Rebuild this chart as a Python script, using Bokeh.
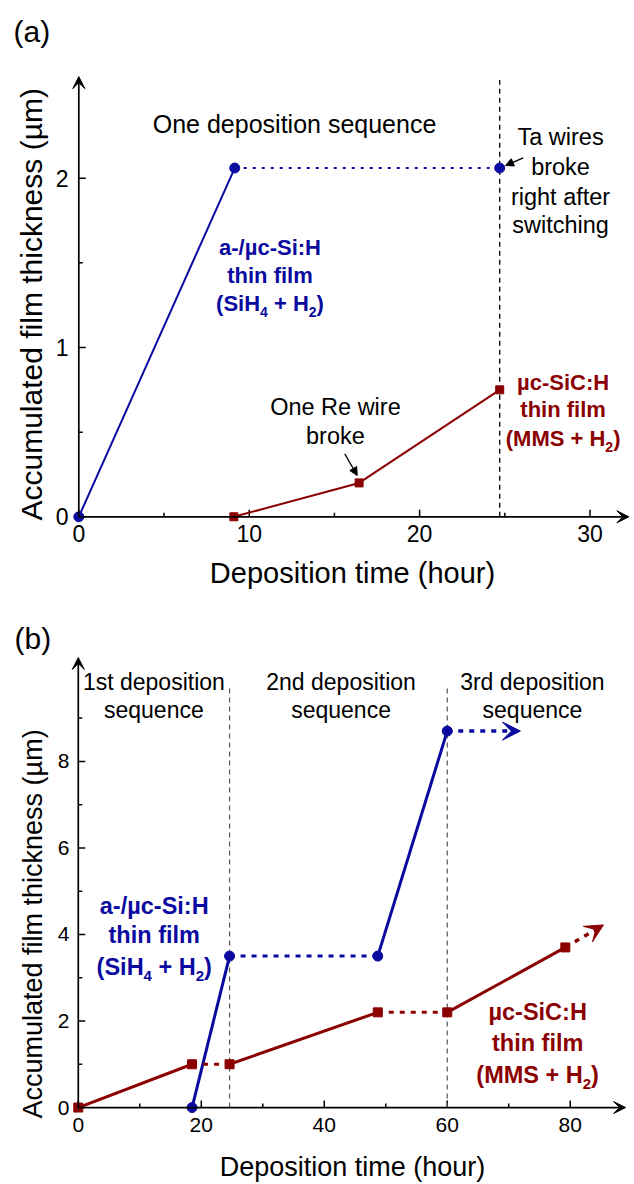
import math
from bokeh.plotting import figure
from bokeh.models import Range1d, FixedTicker, Arrow, VeeHead, NormalHead, Title
from bokeh.layouts import column
from bokeh.embed import file_html
from bokeh.resources import INLINE
from bokeh.core.properties import value

FONT = "Liberation Sans"
BLUE = "#0a0aa0"
RED = "#8b0000"

# ---------------- panel (a) data ----------------
a_x_ticks = [0, 10, 20, 30]
a_x_minor = [5, 15, 25]
a_y_ticks = [0, 1, 2]
a_y_minor = [0.5, 1.5]
a_x_axis_end = 32.28
a_y_axis_end = 2.6
a_si_t = [0.0, 9.15, 24.7]
a_si_y = [0.0, 2.06, 2.06]
a_sic_t = [9.1, 16.45, 24.7]
a_sic_y = [0.0, 0.20, 0.75]
a_switch_t = [24.7]
a_switch_top = [2.58]

# ---------------- panel (b) data ----------------
b_x_ticks = [0, 20, 40, 60, 80]
b_x_minor = [10, 30, 50, 70]
b_y_ticks = [0, 2, 4, 6, 8]
b_y_minor = [1, 3, 5, 7, 9]
b_x_axis_end = 89.0
b_y_axis_end = 10.4
b_si_t = [18.5, 24.6, 48.7, 60.0]
b_si_y = [0.0, 3.5, 3.5, 8.7]
b_si_next = [71.9, 8.7]
b_sic_t = [0.0, 18.5, 24.6, 48.7, 60.0, 79.2]
b_sic_y = [0.0, 1.0, 1.0, 2.2, 2.2, 3.7]
b_sic_next = [85.4, 4.22]
b_switch_t = [24.6, 60.0]
b_switch_top = [9.7, 9.7]

# ---------------- texts ----------------
x_title = "Deposition time (hour)"
y_title = "Accumulated film thickness (µm)"
a_seq_text = "One deposition sequence"
a_seq_pos = (12.66, 2.321)
a_ta_lines = ["Ta wires", "broke", "right after", "switching"]
a_ta_pos = (28.27, [2.242, 2.065, 1.888, 1.721])
a_ta_arrow = (26.08, 2.12, 25.04, 2.075)
a_re_lines = ["One Re wire", "broke"]
a_re_pos = (15.06, [0.647, 0.480])
a_re_arrow = (15.61, 0.372, 16.34, 0.244)
si_lines = ["a-/µc-Si:H", "thin film", [("(SiH", 0), ("4", 1), (" + H", 0), ("2", 1), (")", 0)]]
sic_lines = ["µc-SiC:H", "thin film", [("(MMS + H", 0), ("2", 1), (")", 0)]]
a_si_pos = (11.22, [1.592, 1.425, 1.258])
a_sic_pos = (28.42, [0.795, 0.632, 0.461])
b_seq_lines = ["1st deposition", "2nd deposition", "3rd deposition"]
b_seq_x = [12.29, 42.73, 73.85]
b_seq_y = [9.834, 9.183]
b_si_pos = (12.35, [4.655, 3.981, 3.245])
b_sic_pos = (74.7, [2.202, 1.496, 0.743])

# Arial-bold advance widths (em) for centring composed lines
W_B = {'(': 0.333, ')': 0.333, 'S': 0.667, 'i': 0.278, 'H': 0.722, ' ': 0.278,
       '+': 0.584, 'M': 0.833, '2': 0.556, '4': 0.556}


def make_fig(height, xr, yr, min_left, min_top, min_bottom):
    p = figure(width=634, height=height, x_range=Range1d(*xr), y_range=Range1d(*yr),
               output_backend="svg", toolbar_location=None,
               min_border_left=min_left, min_border_right=0,
               min_border_top=min_top, min_border_bottom=min_bottom)
    p.xgrid.visible = False
    p.ygrid.visible = False
    p.outline_line_color = None
    p.background_fill_color = "white"
    return p


def style_axes(p, xt, xm, yt, ym, tick_fs, xlabel_fs, xstand, ystand, xlab_st):
    p.xaxis.ticker = FixedTicker(ticks=xt, minor_ticks=xm)
    p.yaxis.ticker = FixedTicker(ticks=yt, minor_ticks=ym)
    p.xaxis.axis_label = x_title
    for ax, st in ((p.xaxis[0], xstand), (p.yaxis[0], ystand)):
        ax.axis_line_color = None
        ax.major_tick_line_color = None
        ax.minor_tick_line_color = None
        ax.major_tick_out = 0
        ax.major_tick_in = 0
        ax.minor_tick_out = 0
        ax.minor_tick_in = 0
        ax.major_label_text_font = FONT
        ax.major_label_text_font_size = tick_fs
        ax.major_label_text_color = "black"
        ax.major_label_standoff = st
    xa = p.xaxis[0]
    xa.axis_label_text_font = FONT
    xa.axis_label_text_font_size = xlabel_fs
    xa.axis_label_text_font_style = "normal"
    xa.axis_label_text_color = "black"
    xa.axis_label_standoff = xlab_st
    # inward ticks drawn at the data origin
    p.ray(x=xt, y=[0] * len(xt), length=7, angle=math.pi / 2, length_units="screen",
          line_color="black", line_width=1.5)
    p.ray(x=xm, y=[0] * len(xm), length=4, angle=math.pi / 2, length_units="screen",
          line_color="black", line_width=1.5)
    p.ray(x=[0] * len(yt), y=yt, length=7, angle=0, length_units="screen",
          line_color="black", line_width=1.5)
    p.ray(x=[0] * len(ym), y=ym, length=4, angle=0, length_units="screen",
          line_color="black", line_width=1.5)


def y_title_left(p, fs, offset, standoff, valign):
    p.add_layout(Title(text=y_title, align="left", offset=offset, standoff=standoff,
                       vertical_align=valign, text_font=FONT, text_font_size=fs,
                       text_font_style="normal", text_color="black"), "left")


def axis_arrows(p, xe, ye):
    for x1, y1 in ((0, ye), (xe, 0)):
        p.add_layout(Arrow(x_start=0, y_start=0, x_end=x1, y_end=y1,
                           line_color="black", line_width=1.7,
                           end=VeeHead(size=12, fill_color="black", line_color="black", line_width=1)))


def draw_series(p, t, y, color, width, dash, marker, msize):
    sx0, sy0, sx1, sy1 = [], [], [], []
    dx0, dy0, dx1, dy1 = [], [], [], []
    for i in range(len(t) - 1):
        if y[i] == y[i + 1]:
            dx0.append(t[i]); dy0.append(y[i]); dx1.append(t[i + 1]); dy1.append(y[i + 1])
        else:
            sx0.append(t[i]); sy0.append(y[i]); sx1.append(t[i + 1]); sy1.append(y[i + 1])
    p.segment(x0=sx0, y0=sy0, x1=sx1, y1=sy1, line_color=color, line_width=width)
    if dx0:
        p.segment(x0=dx0, y0=dy0, x1=dx1, y1=dy1, line_color=color, line_width=width,
                  line_dash=dash, line_cap="butt")
    p.scatter(t, y, marker=marker, size=msize, fill_color=color, line_color=color)


def text_lines(p, x, ys, lines, fs, color, bold=False, sub_fs=14, sub_dy=8):
    fsz = float(fs.replace("px", ""))
    for yv, ln in zip(ys, lines):
        if isinstance(ln, str):
            p.text(x=[x], y=[yv], text=[ln], text_align="center", text_baseline="middle",
                   text_font=value(FONT), text_font_size=fs, text_color=color,
                   text_font_style="bold" if bold else "normal")
        else:
            widths = [sum(W_B[c] for c in s) * (sub_fs if sub else fsz) for s, sub in ln]
            off = -sum(widths) / 2.0
            for (s, sub), w in zip(ln, widths):
                p.text(x=[x], y=[yv], text=[s.replace(" ", "\u00a0")], text_align="left",
                       text_baseline="middle", x_offset=off, y_offset=sub_dy if sub else 0,
                       text_font=value(FONT), text_font_size=f"{sub_fs}px" if sub else fs,
                       text_color=color, text_font_style="bold" if bold else "normal")
                off += w


def panel_letter(p, letter, offset, standoff, valign):
    p.add_layout(Title(text=letter, align="left", offset=offset, standoff=standoff,
                       vertical_align=valign, text_font=FONT, text_font_size="30px",
                       text_font_style="normal", text_color="black"), "above")


# ================= panel (a) =================
pa = make_fig(608, (-0.487, 32.61), (-0.0455, 2.772), 70, 47, 84)
style_axes(pa, a_x_ticks, a_x_minor, a_y_ticks, a_y_minor, "23px", "29px", 0, 2, 12)
y_title_left(pa, "30px", 4, 8, "middle")
pa.segment(x0=a_switch_t, y0=[0] * len(a_switch_t), x1=a_switch_t, y1=a_switch_top,
           line_color="black", line_width=1.3, line_dash="5 4")
draw_series(pa, a_si_t, a_si_y, BLUE, 2, "3 6", "circle", 10)
draw_series(pa, a_sic_t, a_sic_y, RED, 2, "3 6", "square", 8)
axis_arrows(pa, a_x_axis_end, a_y_axis_end)
pa.text(x=[a_seq_pos[0]], y=[a_seq_pos[1]], text=[a_seq_text], text_align="center",
        text_baseline="middle", text_font=value(FONT), text_font_size="25px", text_color="black")
text_lines(pa, a_ta_pos[0], a_ta_pos[1], a_ta_lines, "23.5px", "black")
text_lines(pa, a_re_pos[0], a_re_pos[1], a_re_lines, "23.5px", "black")
text_lines(pa, a_si_pos[0], a_si_pos[1], si_lines, "22px", BLUE, bold=True, sub_fs=14, sub_dy=8)
text_lines(pa, a_sic_pos[0], a_sic_pos[1], sic_lines, "22px", RED, bold=True, sub_fs=14, sub_dy=8)
for ar in (a_ta_arrow, a_re_arrow):
    pa.add_layout(Arrow(x_start=ar[0], y_start=ar[1], x_end=ar[2], y_end=ar[3],
                        line_color="black", line_width=1.3,
                        end=NormalHead(size=8, fill_color="black", line_color="black", line_width=1)))
panel_letter(pa, "(a)", -57, 0, "bottom")

# ================= panel (b) =================
pb = make_fig(576, (-1.266, 90.45), (-0.161, 10.47), 69, 46, 68)
style_axes(pb, b_x_ticks, b_x_minor, b_y_ticks, b_y_minor, "21px", "27px", 3, 1, 17)
y_title_left(pb, "27px", -4, 12, "middle")
pb.segment(x0=b_switch_t, y0=[0] * len(b_switch_t), x1=b_switch_t, y1=b_switch_top,
           line_color="#555555", line_width=1.2, line_dash="5 4")
draw_series(pb, b_si_t, b_si_y, BLUE, 3, "5 6", "circle", 10)
draw_series(pb, b_sic_t, b_sic_y, RED, 3, "5 6", "square", 9)
axis_arrows(pb, b_x_axis_end, b_y_axis_end)
pb.add_layout(Arrow(x_start=b_si_t[-1], y_start=b_si_y[-1], x_end=b_si_next[0], y_end=b_si_next[1],
                    line_color=BLUE, line_width=3.5, line_dash="5 6",
                    end=VeeHead(size=18, fill_color=BLUE, line_color=BLUE, line_width=1)))
pb.add_layout(Arrow(x_start=b_sic_t[-1], y_start=b_sic_y[-1], x_end=b_sic_next[0], y_end=b_sic_next[1],
                    line_color=RED, line_width=3.5, line_dash="5 6",
                    end=VeeHead(size=18, fill_color=RED, line_color=RED, line_width=1)))
for xs, head in zip(b_seq_x, b_seq_lines):
    text_lines(pb, xs, b_seq_y, [head, "sequence"], "23px", "black")
text_lines(pb, b_si_pos[0], b_si_pos[1], si_lines, "23.5px", BLUE, bold=True, sub_fs=15, sub_dy=9)
text_lines(pb, b_sic_pos[0], b_sic_pos[1], sic_lines, "23.5px", RED, bold=True, sub_fs=15, sub_dy=9)
panel_letter(pb, "(b)", -56, 0, "bottom")

layout = column(pa, pb, spacing=0)
open("out.html", "w").write(file_html(layout, INLINE))
